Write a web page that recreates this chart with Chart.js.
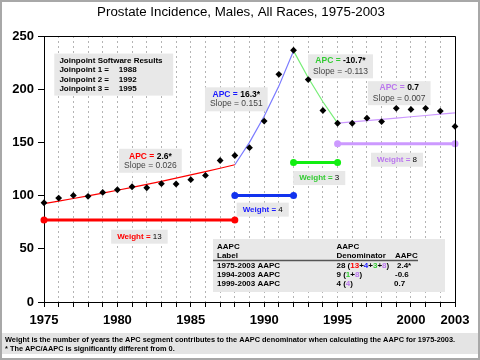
<!DOCTYPE html>
<html><head><meta charset="utf-8">
<script src="https://cdn.jsdelivr.net/npm/chart.js@4"></script>
<style>html,body{margin:0;padding:0;background:#fff}canvas{display:block}</style>
</head><body><canvas id="c" width="480" height="360"></canvas>
<script>
const years = [1975,1976,1977,1978,1979,1980,1981,1982,1983,1984,1985,1986,1987,1988,1989,1990,1991,1992,1993,1994,1995,1996,1997,1998,1999,2000,2001,2002,2003];
const observedRates = [93.3,97.7,100.2,99.3,103,105.5,108.3,107.4,111.2,110.9,115,119,133,137.7,145,170,214,236.6,209,180,168,168,172.8,169.6,182,181,182,179.4,165];
const xTickLabels = [1975,1980,1985,1990,1995,2000,2003];
const yTicks = [0,50,100,150,200,250];

const seg1Years = [1975,1976,1977,1978,1979,1980,1981,1982,1983,1984,1985,1986,1987,1988];
const seg1Fit = [92.4,94.8,97.3,99.8,102.4,105.0,107.8,110.6,113.4,116.4,119.4,122.5,125.7,129.0];
const seg2Years = [1988,1989,1990,1991,1992];
const seg2Fit = [129.0,150.0,174.5,202.9,236.0];
const seg3Years = [1992,1993,1994,1995];
const seg3Fit = [236.0,210.7,188.2,168.1];
const seg4Years = [1995,1996,1997,1998,1999,2000,2001,2002,2003];
const seg4Fit = [168.1,169.3,170.5,171.7,172.9,174.1,175.3,176.5,177.7];

const weightRange1 = [1975,1988], weightLevel1 = 77,  weight1 = 13;
const weightRange2 = [1988,1992], weightLevel2 = 100, weight2 = 4;
const weightRange3 = [1992,1995], weightLevel3 = 131, weight3 = 3;
const weightRange4 = [1995,2003], weightLevel4 = 148.7, weight4 = 8;

const apcValues = ['2.6*','16.3*','-10.7*','0.7'];
const slopeValues = ['0.026','0.151','-0.113','0.007'];
const joinpoints = [1988,1992,1995];
const aapcLabels = ['1975-2003 AAPC','1994-2003 AAPC','1999-2003 AAPC'];
const aapcValues = ['2.4*','-0.6','0.7'];

const RED='#ff0000', BLUE_T='#1a1aff', BLUE_W='#1133ee', BLUE_F='#7b7bff',
      GREEN_T='#33cc33', GREEN_W='#11ee11', GREEN_F='#77ee77',
      VIO_T='#bb77ee', VIO_L='#cc99ff';
const FONT='"Liberation Sans", Arial, sans-serif';

const pts = (xs, ys) => xs.map((x,i)=>({x, y: ys[i]}));
const wpts = (r, lvl) => [{x:r[0], y:lvl},{x:r[1], y:lvl}];

function fitDs(data, color){
  return {data, borderColor:color, borderWidth:1.2, pointRadius:0, fill:false, tension:0, order:2, clip:false};
}
function weightDs(data, color){
  return {data, borderColor:color, backgroundColor:color, borderWidth:3, pointRadius:3.5,
          pointStyle:'circle', pointBorderWidth:0, fill:false, order:3, clip:false};
}

function rich(ctx, parts, x, y, align){
  let w = 0;
  parts.forEach(p=>{ ctx.font = (p.b?'bold ':'') + (p.s||8) + 'px ' + FONT; p.w = ctx.measureText(p.t).width; w += p.w; });
  let sx = align==='center' ? x - w/2 : (align==='right' ? x - w : x);
  ctx.textBaseline='middle'; ctx.textAlign='left';
  parts.forEach(p=>{ ctx.font = (p.b?'bold ':'') + (p.s||8) + 'px ' + FONT; ctx.fillStyle=p.c||'#000'; ctx.fillText(p.t, sx, y); sx += p.w; });
  return w;
}
function box(ctx, x1,y1,x2,y2){ ctx.fillStyle='#e8e8e8'; ctx.fillRect(x1,y1,x2-x1,y2-y1); }

const deco = {
  id:'deco',
  beforeDraw(chart){
    const ctx=chart.ctx; ctx.save(); ctx.fillStyle='#fff'; ctx.fillRect(0,0,chart.width,chart.height); ctx.restore();
  },
  beforeDatasetsDraw(chart){
    const ctx=chart.ctx, xs=chart.scales.x, ys=chart.scales.y;
    const X=v=>xs.getPixelForValue(v), Y=v=>ys.getPixelForValue(v);
    ctx.save();
    // Joinpoint box
    box(ctx, X(1975.7), Y(233.5), X(1983.8), Y(194));
    const jx = X(1976.05);
    rich(ctx,[{t:'Joinpoint Software Results',b:true}], jx, Y(227), 'left');
    joinpoints.forEach((j,i)=>{
      const yy = Y(218 - i*9);
      rich(ctx,[{t:'Joinpoint '+(i+1)+' =',b:true}], jx, yy, 'left');
      rich(ctx,[{t:String(j),b:true}], X(1980.1), yy, 'left');
    });
    // APC labels
    const apc = [
      {x:1982.25, y1:137, y2:128.5, c:RED},
      {x:1988.1, y1:195, y2:186, c:BLUE_T},
      {x:1995.2, y1:226.5, y2:216.5, c:GREEN_T},
      {x:1999.2, y1:201, y2:191.5, c:VIO_T}
    ];
    apc.forEach((a,i)=>{
      ctx.font='8.5px '+FONT;
      const w2 = ctx.measureText('Slope = '+slopeValues[i]).width;
      ctx.font='bold 8.5px '+FONT;
      const w1 = ctx.measureText('APC = '+apcValues[i]).width;
      const w = Math.max(w1,w2)+10;
      const cx=X(a.x), cy=(Y(a.y1)+Y(a.y2))/2;
      box(ctx, cx-w/2, cy-12, cx+w/2, cy+12);
      rich(ctx,[{t:'APC = ',b:true,c:a.c,s:8.5},{t:apcValues[i],b:true,s:8.5}], cx, Y(a.y1), 'center');
      rich(ctx,[{t:'Slope = '+slopeValues[i],c:'#444',s:8.5}], cx, Y(a.y2), 'center');
    });
    // Weight labels
    const wl = [
      {x:1981.5, y:61.4, c:RED, n:weight1},
      {x:1989.9, y:86.8, c:BLUE_T, n:weight2},
      {x:1993.75, y:116.5, c:GREEN_T, n:weight3},
      {x:1999.05, y:133.7, c:VIO_T, n:weight4}
    ];
    wl.forEach(a=>{
      ctx.font='bold 8px '+FONT;
      const w = ctx.measureText('Weight = '+a.n).width + 12;
      const cx=X(a.x), cy=Y(a.y);
      box(ctx, cx-w/2, cy-7, cx+w/2, cy+7);
      rich(ctx,[{t:'Weight = ',b:true,c:a.c},{t:String(a.n),b:false}], cx, cy, 'center');
    });
    // AAPC table
    box(ctx, 213, 239, 445, 292);
    const c1=217, c2=336.5, c3=395;
    rich(ctx,[{t:'AAPC',b:true}], c1, 246.5,'left');
    rich(ctx,[{t:'AAPC',b:true}], c2, 246.5,'left');
    rich(ctx,[{t:'Label',b:true}], c1, 255.5,'left');
    rich(ctx,[{t:'Denominator',b:true}], c2, 255.5,'left');
    rich(ctx,[{t:'AAPC',b:true}], c3, 255.5,'left');
    ctx.strokeStyle='#555'; ctx.lineWidth=1.5; ctx.beginPath(); ctx.moveTo(213,260.5); ctx.lineTo(418,260.5); ctx.stroke();
    const rowsY=[265.5,274.5,283.5];
    aapcLabels.forEach((l,i)=>rich(ctx,[{t:l,b:true}], c1, rowsY[i],'left'));
    rich(ctx,[{t:'28 (',b:true},{t:String(weight1),b:true,c:RED},{t:'+',b:true},{t:String(weight2),b:true,c:BLUE_T},{t:'+',b:true},{t:String(weight3),b:true,c:GREEN_T},{t:'+',b:true},{t:String(weight4),b:true,c:VIO_T},{t:')',b:true}], c2, rowsY[0],'left');
    rich(ctx,[{t:'9 (',b:true},{t:'1',b:true,c:GREEN_T},{t:'+',b:true},{t:'8',b:true,c:VIO_T},{t:')',b:true}], c2, rowsY[1],'left');
    rich(ctx,[{t:'4 (',b:true},{t:'4',b:true,c:VIO_T},{t:')',b:true}], c2, rowsY[2],'left');
    rich(ctx,[{t:aapcValues[0],b:true}], c3+2, rowsY[0],'left');
    rich(ctx,[{t:aapcValues[1],b:true}], c3, rowsY[1],'left');
    rich(ctx,[{t:aapcValues[2],b:true}], c3-1, rowsY[2],'left');
    ctx.restore();
  },
  afterDraw(chart){
    const ctx=chart.ctx, a=chart.chartArea;
    ctx.save();
    // plot frame top/right
    ctx.strokeStyle='#000'; ctx.lineWidth=1;
    ctx.beginPath(); ctx.moveTo(a.left, a.top+0.5); ctx.lineTo(a.right+0.5, a.top+0.5); ctx.lineTo(a.right+0.5, a.bottom); ctx.stroke();
    // title fitted to reference width
    const title='Prostate Incidence, Males, All Races, 1975-2003';
    ctx.font='15px '+FONT;
    const tsz = Math.min(15, 15*288/ctx.measureText(title).width);
    ctx.fillStyle='#000'; ctx.font=tsz.toFixed(2)+'px '+FONT; ctx.textAlign='center'; ctx.textBaseline='middle';
    ctx.fillText(title, 241, 12.5);
    // footer
    ctx.fillStyle='#e4e4e4'; ctx.fillRect(2, 333, 476, 21);
    const f1='Weight is the number of years the APC segment contributes to the AAPC denominator when calculating the AAPC for 1975-2003.';
    const f2='* The APC/AAPC is significantly different from 0.';
    ctx.font='bold 8px '+FONT;
    const sc = 450/ctx.measureText(f1).width;
    const fs = Math.min(8.5, 8*sc);
    ctx.font='bold '+fs.toFixed(2)+'px '+FONT; ctx.fillStyle='#000'; ctx.textAlign='left';
    ctx.fillText(f1, 5, 339.5);
    ctx.fillText(f2, 5, 349);
    // outer frame
    ctx.strokeStyle='#a8a8a8'; ctx.lineWidth=2; ctx.strokeRect(1,1,478,358);
    ctx.restore();
  }
};

new Chart(document.getElementById('c'), {
  type:'line',
  data:{ datasets:[
    {data:pts(years, observedRates), showLine:false, pointStyle:'rectRot', pointRadius:3.4,
     backgroundColor:'#000', borderColor:'#000', pointBorderWidth:0, order:1, clip:false},
    fitDs(pts(seg1Years, seg1Fit), RED),
    fitDs(pts(seg2Years, seg2Fit), BLUE_F),
    fitDs(pts(seg3Years, seg3Fit), GREEN_F),
    fitDs(pts(seg4Years, seg4Fit), VIO_L),
    weightDs(wpts(weightRange1, weightLevel1), RED),
    weightDs(wpts(weightRange2, weightLevel2), BLUE_W),
    weightDs(wpts(weightRange3, weightLevel3), GREEN_W),
    weightDs(wpts(weightRange4, weightLevel4), VIO_L)
  ]},
  options:{
    responsive:false, animation:false, devicePixelRatio:1,
    layout:{padding:{top:36,right:25,left:0,bottom:0}},
    plugins:{legend:{display:false}, tooltip:{enabled:false}, title:{display:false}},
    scales:{
      x:{type:'linear', min:1975, max:2003,
        afterBuildTicks:s=>{ s.ticks = years.map(v=>({value:v})); },
        afterFit:s=>{ s.height = 58; },
        ticks:{autoSkip:false, maxRotation:0, padding:6, color:'#000',
          font:{family:FONT, size:13, weight:'bold'},
          callback:v=> xTickLabels.includes(v) ? String(v) : ''},
        grid:{color:'#b4b4b4', lineWidth:1, drawTicks:true, tickLength:5, tickColor:'#000', tickBorderDash:[]},
        border:{color:'#000', width:1, dash:[2,3]}
      },
      y:{min:0, max:250,
        afterBuildTicks:s=>{ s.ticks = yTicks.map(v=>({value:v})); },
        afterFit:s=>{ s.width = 44; },
        ticks:{padding:4, color:'#000', font:{family:FONT, size:13, weight:'bold'}},
        grid:{drawOnChartArea:false, drawTicks:true, tickLength:6, tickColor:'#000'},
        border:{color:'#000', width:1}
      }
    }
  },
  plugins:[deco]
});
</script></body></html>
